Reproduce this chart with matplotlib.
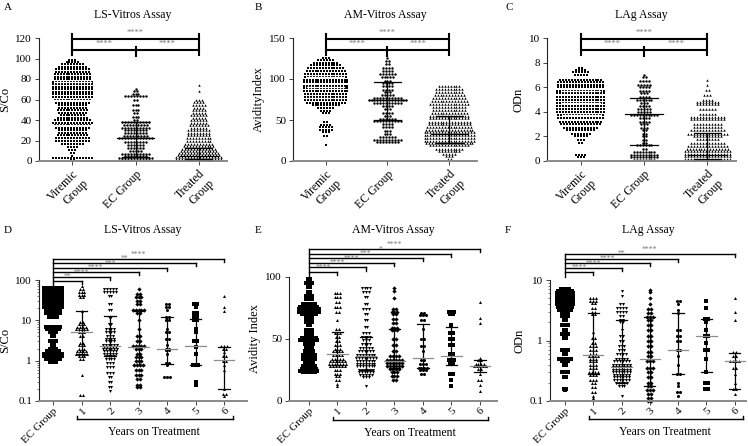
import numpy as np
import matplotlib
matplotlib.use("Agg")
import matplotlib.pyplot as plt
import matplotlib.transforms as mtransforms
from matplotlib.ticker import FixedLocator, NullFormatter

plt.rcParams['font.family'] = ['Liberation Serif', 'DejaVu Serif']
plt.rcParams['font.size'] = 8

TOP_GROUPS = ["Viremic\nGroup", "EC Group", "Treated\nGroup"]
YEAR_GROUPS = ["EC Group", "1", "2", "3", "4", "5", "6"]

# Panel A: LS-Vitros, S/Co
a_viremic = [(99, 3), (97, 5), (95, 8), (92, 10), (90, 12), (87, 12), (85, 13), (82, 13),
             (80, 13), (77, 14), (75, 14), (72, 14), (70, 14), (67, 14), (65, 14), (62, 14),
             (60, 13), (57, 12), (55, 10), (52, 10), (50, 11), (47, 10), (45, 9), (42, 11),
             (40, 13), (37, 14), (35, 13), (32, 12), (30, 10), (27, 10), (25, 11), (22, 12),
             (20, 12), (17, 8), (14, 4), (11, 3), (8, 2), (5, 1), (3, 14), (1, 2)]
a_ec = [(70, 1), (68, 2), (65, 3), (63, 8), (60, 2), (55, 3), (50, 3), (47, 2), (43, 3),
        (40, 2), (38, 10), (35, 9), (32, 10), (30, 8), (27, 8), (24, 9), (22, 12), (19, 8),
        (16, 6), (13, 6), (10, 5), (7, 10), (5, 8), (3, 12), (1, 10)]
a_treated = [(74, 1), (68, 1), (60, 3), (58, 4), (55, 5), (52, 4), (50, 5), (47, 5), (45, 6),
             (42, 5), (40, 6), (37, 6), (35, 7), (32, 6), (30, 8), (27, 8), (25, 8), (22, 9),
             (20, 9), (17, 10), (15, 11), (12, 12), (10, 13), (8, 14), (6, 15), (4, 16),
             (2, 16), (0.8, 15)]
a_stats = [(60, 35, 77), (22, 4, 38), (5, 1.5, 13)]

# Panel B: AM-Vitros, Avidity Index
b_viremic = [(126, 3), (123, 6), (120, 9), (117, 11), (113, 13), (110, 14), (106, 15),
             (103, 15), (99, 16), (96, 16), (92, 16), (89, 16), (85, 16), (82, 15), (78, 15),
             (75, 15), (71, 14), (68, 10), (65, 6), (61, 4), (58, 3), (47, 2), (44, 4),
             (41, 5), (38, 5), (35, 3), (31, 2), (20, 1)]
b_ec = [(125, 1), (122, 2), (118, 2), (114, 4), (110, 4), (106, 6), (102, 5), (98, 3),
        (95, 4), (91, 4), (87, 4), (84, 3), (80, 5), (77, 10), (74, 14), (71, 10), (67, 4),
        (63, 3), (59, 4), (55, 3), (51, 6), (49, 10), (45, 4), (41, 4), (37, 3), (33, 3),
        (29, 6), (26, 10), (23, 8)]
b_treated = [(91, 8), (88, 10), (84, 10), (80, 11), (77, 12), (73, 13), (70, 14), (66, 12),
             (62, 12), (59, 13), (55, 14), (52, 14), (48, 15), (45, 15), (41, 16), (38, 17),
             (35, 18), (32, 18), (28, 18), (25, 18), (22, 17), (19, 14), (15, 10), (12, 8),
             (9, 5), (6, 3), (3, 2)]
b_stats = [(90, 77, 103), (74, 50, 96), (33, 22, 55)]

# Panel C: LAg, ODn
c_viremic = [(7.6, 2), (7.4, 4), (7.2, 6), (7.0, 5), (6.6, 15), (6.4, 16), (6.2, 16),
             (6.0, 16), (5.7, 17), (5.5, 17), (5.2, 17), (5.0, 17), (4.7, 17), (4.5, 17),
             (4.2, 17), (4.0, 17), (3.7, 16), (3.5, 16), (3.2, 15), (3.0, 14), (2.7, 12),
             (2.5, 10), (2.2, 7), (2.0, 5), (1.7, 3), (1.5, 2), (0.5, 4), (0.3, 3)]
c_ec = [(7.0, 1), (6.8, 2), (6.5, 4), (6.2, 5), (6.0, 4), (5.7, 4), (5.5, 3), (5.2, 4),
        (5.0, 6), (4.7, 3), (4.5, 4), (4.2, 5), (4.0, 5), (3.7, 10), (3.5, 4), (3.2, 4),
        (3.0, 3), (2.7, 3), (2.5, 2), (2.2, 2), (2.0, 2), (1.7, 2), (1.5, 2), (1.3, 6),
        (1.0, 2), (0.7, 8), (0.5, 10), (0.3, 10), (0.1, 8)]
c_treated = [(6.6, 1), (6.2, 1), (5.8, 2), (5.4, 3), (5.0, 4), (4.8, 8), (4.6, 8), (4.2, 6),
             (3.8, 6), (3.6, 12), (3.4, 12), (3.0, 10), (2.8, 10), (2.5, 12), (2.2, 14),
             (2.0, 10), (1.8, 8), (1.5, 12), (1.2, 14), (1.0, 15), (0.8, 16), (0.6, 16),
             (0.4, 16), (0.2, 16), (0.05, 15)]
c_stats = [(4.7, 3.7, 5.7), (3.8, 1.3, 5.1), (0.5, 0.2, 2.3)]

# Panel D: LS-Vitros by years on treatment (log S/Co)
d_groups = [
    [(65, 7), (55, 7), (45, 7), (38, 7), (32, 7), (27, 7), (22, 7), (18, 6), (15, 6),
     (12, 4), (7, 6), (6, 5), (5, 3), (4, 2), (3, 3), (2.5, 2), (2, 3), (1.7, 5), (1.5, 7),
     (1.3, 7), (1.1, 6), (0.95, 3)],
    [(70, 1), (60, 2), (50, 3), (42, 3), (37, 2), (17, 1), (9, 2), (8, 3), (7, 4), (6, 5),
     (5, 3), (4, 2), (2.8, 2), (2.4, 3), (2, 3), (1.7, 4), (1.5, 5), (1.3, 3), (1.1, 2),
     (0.45, 1), (0.14, 2)],
    [(60, 5), (50, 5), (40, 2), (25, 2), (18, 2), (12, 2), (8, 2), (6, 4), (5, 4), (4, 3),
     (3.5, 4), (3, 4), (2.5, 6), (2.2, 5), (2, 6), (1.7, 5), (1.5, 5), (1.3, 4), (1.1, 4),
     (0.9, 3), (0.7, 3), (0.5, 3), (0.4, 2), (0.3, 2), (0.22, 2), (0.18, 1)],
    [(60, 1), (45, 2), (38, 3), (30, 2), (25, 2), (18, 5), (15, 2), (10, 1), (6, 1), (4, 2),
     (3, 2), (2.3, 5), (2, 3), (1.5, 2), (1.2, 3), (1, 3), (0.8, 4), (0.6, 3), (0.45, 3),
     (0.35, 2), (0.25, 2), (0.22, 2)],
    [(25, 2), (22, 2), (18, 1), (12, 2), (10, 2), (6, 1), (5, 2), (3.5, 2), (2.5, 1), (2, 2),
     (1.8, 2), (1.5, 1), (0.9, 2), (0.8, 1), (0.4, 3)],
    [(25, 2), (22, 1), (15, 2), (12, 2), (10, 2), (6, 1), (5, 1), (3, 2), (2.2, 1), (1.5, 1),
     (0.8, 3), (0.3, 1), (0.25, 1)],
    [(40, 1), (22, 1), (17, 1), (2.3, 3), (2, 2), (1.6, 1), (1.3, 2), (1, 2), (0.8, 1),
     (0.6, 1), (0.2, 1), (0.15, 2), (0.13, 1)],
]
d_stats = [None, (5, 1.5, 17), (2.3, 1.3, 13), (2.2, 0.8, 17), (2, 0.85, 12),
           (2.3, 0.8, 11), (1.05, 0.2, 2.2)]
d_sig = ["**", "****", "****", "***", "**", "****"]

# Panel E: AM-Vitros by years on treatment
e_groups = [
    [(98, 2), (95, 3), (92, 2), (88, 2), (85, 3), (82, 3), (78, 5), (76, 7), (74, 8),
     (72, 8), (70, 6), (67, 3), (64, 3), (61, 2), (57, 3), (54, 3), (51, 6), (49, 7),
     (46, 4), (43, 3), (40, 4), (37, 5), (34, 5), (31, 4), (28, 5), (26, 6), (24, 7), (23, 5)],
    [(87, 3), (84, 3), (80, 2), (76, 3), (72, 2), (65, 1), (58, 2), (55, 3), (52, 2), (48, 2),
     (45, 3), (42, 3), (40, 4), (37, 4), (34, 5), (32, 6), (30, 7), (28, 6), (25, 3), (22, 3),
     (20, 2), (17, 2), (14, 1), (12, 1)],
    [(91, 4), (88, 3), (84, 2), (78, 2), (74, 3), (70, 2), (65, 2), (60, 2), (55, 3), (52, 4),
     (49, 3), (46, 4), (43, 5), (40, 6), (37, 7), (35, 8), (32, 7), (30, 7), (28, 7), (25, 6),
     (23, 6), (21, 5), (19, 3), (12, 1)],
    [(91, 1), (89, 1), (83, 1), (74, 2), (72, 3), (70, 2), (66, 2), (63, 2), (59, 3), (57, 3),
     (50, 2), (45, 2), (40, 2), (36, 4), (33, 6), (31, 6), (28, 6), (26, 4), (23, 3), (20, 3),
     (17, 2)],
    [(71, 2), (69, 3), (65, 2), (58, 1), (50, 2), (44, 2), (40, 1), (33, 2), (30, 3), (27, 4),
     (25, 3), (22, 2)],
    [(72, 3), (70, 2), (61, 1), (55, 2), (50, 2), (45, 2), (38, 2), (33, 3), (30, 2), (22, 2),
     (17, 1), (12, 1)],
    [(80, 1), (67, 1), (63, 1), (35, 1), (33, 2), (30, 4), (28, 5), (26, 2), (22, 1), (17, 2),
     (13, 1), (8, 1)],
]
e_stats = [None, (38, 29, 56), (36, 25, 52), (32, 27, 58), (35, 27, 62), (36, 29, 60),
           (28, 23, 33)]
e_sig = ["****", "****", "****", "***", "*", "****"]

# Panel F: LAg by years on treatment (log ODn)
f_groups = [
    [(7.0, 4), (6.5, 6), (6.0, 7), (5.5, 7), (5.0, 7), (4.5, 7), (4.0, 7), (3.6, 6), (3.2, 5),
     (2.8, 3), (2.5, 3), (2.2, 2), (1.8, 3), (1.5, 2), (1.3, 3), (1.1, 2), (0.7, 3), (0.6, 2),
     (0.5, 5), (0.45, 3), (0.4, 2), (0.3, 3), (0.25, 2), (0.16, 2), (0.15, 1)],
    [(5.0, 3), (4.5, 3), (4.2, 2), (3.5, 2), (3.0, 2), (2.7, 2), (1.4, 1), (1.1, 2), (0.9, 2),
     (0.8, 3), (0.7, 3), (0.6, 3), (0.55, 4), (0.5, 3), (0.45, 3), (0.4, 3), (0.35, 3),
     (0.3, 4), (0.27, 3), (0.22, 3), (0.2, 2), (0.17, 2), (0.14, 2), (0.12, 1), (0.11, 1)],
    [(6.5, 1), (5.5, 1), (4.0, 2), (3.5, 4), (3.0, 4), (2.5, 2), (2.2, 2), (2.0, 2), (1.5, 1),
     (1.2, 2), (1.0, 2), (0.8, 3), (0.7, 3), (0.6, 4), (0.5, 5), (0.45, 6), (0.4, 7),
     (0.37, 7), (0.33, 7), (0.3, 7), (0.27, 6), (0.25, 6), (0.22, 6), (0.2, 5), (0.18, 3),
     (0.12, 1)],
    [(6.8, 1), (6.3, 1), (5.0, 1), (4.0, 1), (3.3, 2), (2.9, 2), (2.4, 3), (2.2, 2), (1.8, 2),
     (1.5, 2), (1.2, 2), (1.0, 2), (0.8, 2), (0.65, 2), (0.55, 2), (0.45, 3), (0.35, 3),
     (0.3, 2), (0.25, 2), (0.2, 2), (0.18, 2), (0.15, 3), (0.13, 2), (0.11, 2), (0.1, 2)],
    [(4.5, 2), (4.0, 1), (3.2, 1), (2.8, 1), (1.5, 2), (1.2, 2), (1.0, 2), (0.7, 2), (0.55, 1),
     (0.4, 1), (0.28, 2), (0.2, 1), (0.18, 1), (0.14, 2), (0.12, 1)],
    [(4.5, 1), (3.5, 1), (2.3, 2), (2.0, 1), (1.5, 1), (1.2, 2), (0.9, 1), (0.7, 2), (0.5, 1),
     (0.3, 1), (0.2, 2), (0.16, 2)],
    [(5.0, 1), (3.0, 1), (2.2, 1), (0.65, 2), (0.55, 2), (0.45, 4), (0.35, 2), (0.28, 1),
     (0.2, 1), (0.16, 2), (0.13, 1)],
]
f_stats = [None, (0.57, 0.28, 2.9), (0.37, 0.2, 2.2), (0.5, 0.18, 2.4), (0.7, 0.28, 2.8),
           (1.2, 0.3, 2.3), (0.45, 0.16, 0.62)]
f_targets = [1, 2, 3, 4, 6]
f_sig = ["****", "****", "****", "**", "****"]

TOP_MARKERS = ['s', 'o', '^']
YEAR_MARKERS = ['s', '^', 'v', 'D', 'o', 's', '^']


def swarm(ax, x0, pairs, dx, marker, ms):
    xs, ys = [], []
    for v, n in pairs:
        for j in range(n):
            xs.append(x0 + (j - (n - 1) / 2) * dx)
            ys.append(v)
    ax.plot(xs, ys, ls='none', marker=marker, ms=ms, color='black', mew=0, clip_on=False)


def med_iqr(ax, x0, stat, mw, cw, mcol, ecol, vertical=True):
    med, q1, q3 = stat
    if vertical:
        ax.plot([x0, x0], [q1, q3], color=ecol, lw=0.9, zorder=3)
    ax.plot([x0 - cw, x0 + cw], [q1, q1], color=ecol, lw=0.9, zorder=3)
    ax.plot([x0 - cw, x0 + cw], [q3, q3], color=ecol, lw=0.9, zorder=3)
    ax.plot([x0 - mw, x0 + mw], [med, med], color=mcol, lw=0.9, zorder=3)


def style_axes(ax):
    for s in ['top', 'right']:
        ax.spines[s].set_visible(False)
    ax.spines['left'].set_color('#222222')
    ax.spines['left'].set_linewidth(0.8)
    ax.spines['bottom'].set_color('#8a8a8a')
    ax.spines['bottom'].set_linewidth(1.4)
    ax.tick_params(axis='both', length=3, width=0.7, color='#444444', pad=2)


def top_panel(ax, groups, stats, ylim, yticks, ylabel, title, letter, lx):
    style_axes(ax)
    for i, g in enumerate(groups):
        swarm(ax, i, g, 0.047, TOP_MARKERS[i], 1.75)
    med_iqr(ax, 0, stats[0], 0.3, 0.3, 'white', 'white', vertical=False)
    med_iqr(ax, 1, stats[1], 0.3, 0.22, 'black', 'black')
    med_iqr(ax, 2, stats[2], 0.3, 0.22, 'black', 'black')
    ax.set_xlim(-0.53, 2.45)
    ax.set_ylim(*ylim)
    ax.set_yticks(yticks)
    ax.set_xticks(range(3))
    ax.set_xticklabels(TOP_GROUPS, rotation=45, ha='right', rotation_mode='anchor',
                       fontsize=8.5)
    ax.set_ylabel(ylabel, fontsize=9, labelpad=3)
    # significance brackets
    tr = mtransforms.blended_transform_factory(ax.transData, ax.transAxes)
    kw = dict(color='black', lw=1.5, transform=tr, clip_on=False)
    ax.plot([0, 2], [0.99, 0.99], **kw)
    ax.plot([0, 2], [0.90, 0.90], **kw)
    ax.plot([0, 0], [0.86, 1.035], **kw)
    ax.plot([2, 2], [0.86, 1.035], **kw)
    ax.plot([1, 1], [0.85, 0.93], **kw)
    for xm, yb in [(1, 0.99), (0.5, 0.90), (1.5, 0.90)]:
        ax.annotate("****", xy=(xm, yb), xycoords=tr, xytext=(0, 1.5),
                    textcoords='offset points', ha='center', va='bottom',
                    fontsize=6, color='#777777')
    bb = ax.get_position()
    fig.text((bb.x0 + bb.x1) / 2, 1 - 15 / 446, title, ha='center', va='center', fontsize=8.5)
    fig.text(lx, 1 - 8 / 446, letter, ha='left', va='center', fontsize=8)


def bottom_panel(ax, groups, stats, targets, sig, log, ylim, yticks, yticklabels, ylabel,
                 title, letter, lx, xlim, b0, step):
    style_axes(ax)
    if log:
        ax.set_yscale('log')
    for i, g in enumerate(groups):
        swarm(ax, i, g, 0.1, YEAR_MARKERS[i], 2.2)
        if stats[i] is not None:
            med_iqr(ax, i, stats[i], 0.36, 0.2, '#8c8c8c', 'black')
    ax.set_xlim(*xlim)
    ax.set_ylim(*ylim)
    ax.yaxis.set_major_locator(FixedLocator(yticks))
    ax.set_yticklabels(yticklabels)
    if log:
        minors = [m * 10.0 ** e for e in range(-1, 3) for m in range(2, 10)]
        ax.yaxis.set_minor_locator(FixedLocator([v for v in minors if ylim[0] < v < ylim[1]]))
        ax.yaxis.set_minor_formatter(NullFormatter())
        ax.tick_params(axis='y', which='minor', length=1.8, width=0.5, color='#444444')
    ax.set_xticks(range(7))
    ax.set_xticklabels(YEAR_GROUPS, rotation=45, ha='right', rotation_mode='anchor',
                       fontsize=8)
    ax.tick_params(axis='x', pad=1)
    ax.set_ylabel(ylabel, fontsize=9, labelpad=3)
    tr = mtransforms.blended_transform_factory(ax.transData, ax.transAxes)
    kw = dict(color='black', lw=1.0, transform=tr, clip_on=False)
    top = b0 + step * (len(targets) - 1)
    ax.plot([0, 0], [b0 - 0.035, top], **kw)
    for k, (t, s) in enumerate(zip(targets, sig)):
        yk = b0 + step * k
        ax.plot([0, t], [yk, yk], **kw)
        ax.plot([t, t], [yk, yk - 0.025], **kw)
        ax.annotate(s, xy=(t / 2, yk), xycoords=tr, xytext=(0, 0.2),
                    textcoords='offset points', ha='center', va='bottom',
                    fontsize=5.5, color='#777777')
    # "Years on Treatment" bracket
    ax.plot([0.85, 6.3], [-0.15, -0.15], **kw)
    ax.plot([0.85, 0.85], [-0.15, -0.125], **kw)
    ax.plot([6.3, 6.3], [-0.15, -0.125], **kw)
    ax.text(3.55, -0.255, "Years on Treatment", transform=tr, ha='center', va='center',
            fontsize=8.5)
    bb = ax.get_position()
    fig.text((bb.x0 + bb.x1) / 2, 1 - 230 / 446, title, ha='center', va='center',
             fontsize=8.5)
    fig.text(lx, 1 - 230 / 446, letter, ha='left', va='center', fontsize=8)


W, H = 748, 446
fig = plt.figure(figsize=(W / 100, H / 100), dpi=100)


def add_ax(x0, x1, ytop, ybot):
    return fig.add_axes([x0 / W, 1 - ybot / H, (x1 - x0) / W, (ybot - ytop) / H])


axA = add_ax(39, 227, 38, 161)
axB = add_ax(293, 477, 38, 161)
axC = add_ax(547, 736, 38, 161)
axD = add_ax(39, 247, 280, 401)
axE = add_ax(289, 497, 277, 401)
axF = add_ax(550, 746, 280, 401)

top_panel(axA, [a_viremic, a_ec, a_treated], a_stats, (0, 120), range(0, 121, 20),
          "S/Co", "LS-Vitros Assay", "A", 4 / W)
top_panel(axB, [b_viremic, b_ec, b_treated], b_stats, (0, 150), [0, 50, 100, 150],
          "AvidityIndex", "AM-Vitros Assay", "B", 255 / W)
top_panel(axC, [c_viremic, c_ec, c_treated], c_stats, (0, 10), range(0, 11, 2),
          "ODn", "LAg Assay", "C", 505 / W)

bottom_panel(axD, d_groups, d_stats, [1, 2, 3, 4, 5, 6], d_sig, True, (0.1, 100),
             [0.1, 1, 10, 100], ["0.1", "1", "10", "100"], "S/Co", "LS-Vitros Assay",
             "D", 4 / W, (-0.49, 6.8), 0.99, 0.037)
bottom_panel(axE, e_groups, e_stats, [1, 2, 3, 4, 5, 6], e_sig, False, (0, 100),
             [0, 50, 100], ["0", "50", "100"], "Avidity Index", "AM-Vitros Assay",
             "E", 255 / W, (-0.7, 6.6), 1.04, 0.037)
bottom_panel(axF, f_groups, f_stats, f_targets, f_sig, True, (0.1, 10),
             [0.1, 1, 10], ["0.1", "1", "10"], "ODn", "LAg Assay",
             "F", 505 / W, (-0.53, 6.4), 1.063, 0.038)

fig.savefig("out.png", dpi=100)
